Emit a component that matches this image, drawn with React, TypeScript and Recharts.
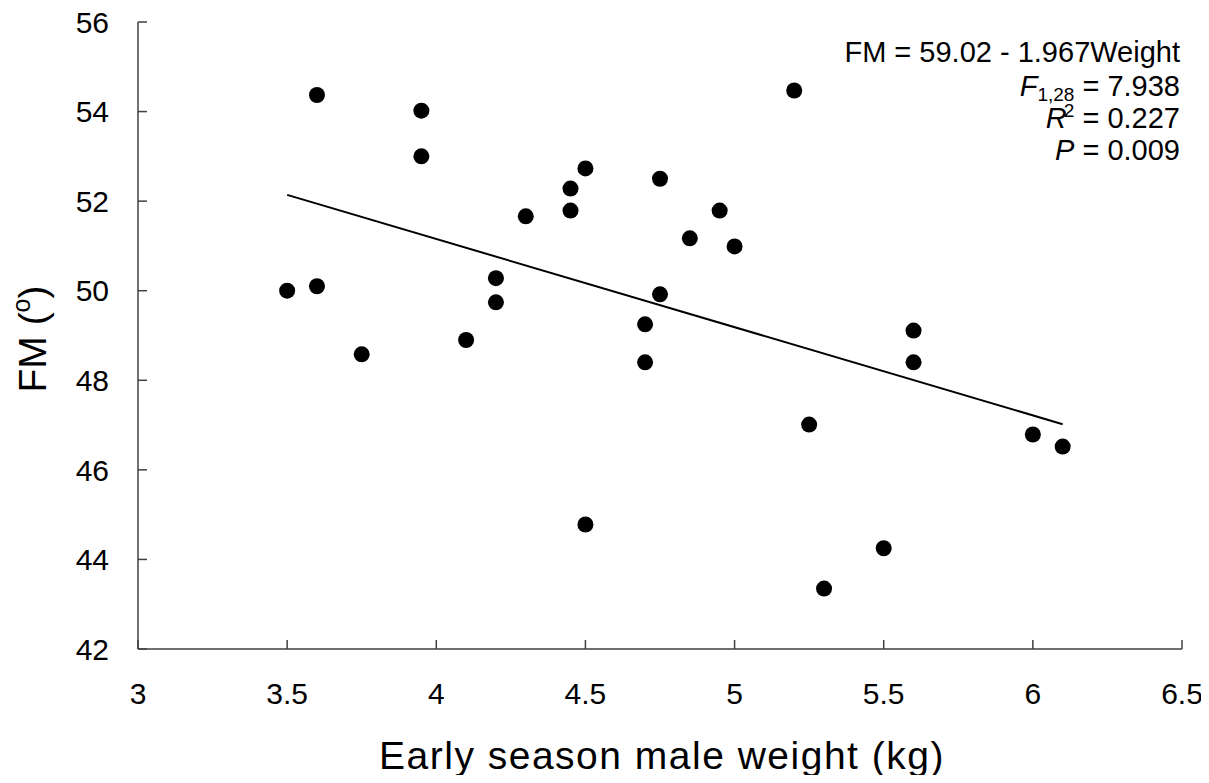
import { Customized, Scatter, ScatterChart, XAxis, YAxis } from "recharts";

// points
const weight = [
  3.5, 3.6, 3.6, 3.75, 3.95, 3.95, 4.1, 4.2, 4.2, 4.3, 4.45, 4.45, 4.5, 4.5,
  4.7, 4.7, 4.75, 4.75, 4.85, 4.95, 5.0, 5.2, 5.25, 5.3, 5.5, 5.6, 5.6, 6.0,
  6.1,
];
const fm = [
  50.0, 50.1, 54.37, 48.58, 54.02, 53.0, 48.9, 50.28, 49.74, 51.66, 52.28,
  51.79, 52.73, 44.78, 49.25, 48.4, 52.5, 49.92, 51.17, 51.79, 50.99, 54.47,
  47.01, 43.35, 44.25, 49.11, 48.4, 46.79, 46.52,
];

// regression line ends
const fitWeight = [3.5, 6.1];
const fitFM = [52.14, 47.02];

const xTicks = [3, 3.5, 4, 4.5, 5, 5.5, 6, 6.5];
const yTicks = [42, 44, 46, 48, 50, 52, 54, 56];

const points = weight.map((w, i) => ({ w, fm: fm[i] }));
const fit = fitWeight.map((w, i) => ({ w, fm: fitFM[i] }));

const font = "'Liberation Sans', Arial, sans-serif";
const axisColor = "#404040";

function Texts() {
  return (
    <g fontFamily={font} fill="#000">
      <text x={1180} y={62} textAnchor="end" fontSize={29}>
        FM = 59.02 - 1.967Weight
      </text>
      <text x={1180} y={96} textAnchor="end" fontSize={29}>
        <tspan fontStyle="italic">F</tspan>
        <tspan fontSize={19} dy={5}>
          1,28
        </tspan>
        <tspan dy={-5}> = 7.938</tspan>
      </text>
      <text x={1180} y={128} textAnchor="end" fontSize={29}>
        <tspan fontStyle="italic">R</tspan>
        <tspan fontSize={19} dx={-3} dy={-11}>
          2
        </tspan>
        <tspan dy={11}> = 0.227</tspan>
      </text>
      <text x={1180} y={160} textAnchor="end" fontSize={29}>
        <tspan fontStyle="italic">P</tspan> = 0.009
      </text>
      <text
        x={662}
        y={769}
        textAnchor="middle"
        fontSize={39}
        letterSpacing={1.5}
      >
        Early season male weight (kg)
      </text>
      <text
        x={0}
        y={0}
        textAnchor="middle"
        fontSize={39}
        transform="translate(46, 339) rotate(-90)"
      >
        FM (
        <tspan fontSize={25} dy={-16}>
          o
        </tspan>
        <tspan dy={16}>)</tspan>
      </text>
    </g>
  );
}

export default function App() {
  return (
    <div style={{ margin: "-8px" }}>
      <ScatterChart
        width={1209}
        height={783}
        margin={{ top: 22, right: 27, bottom: 0, left: 0 }}
        style={{ fontFamily: font }}
      >
        <XAxis
          type="number"
          dataKey="w"
          domain={[3, 6.5]}
          ticks={xTicks}
          interval={0}
          height={134}
          tickSize={-9}
          tickMargin={43}
          stroke={axisColor}
          strokeWidth={1.5}
          tick={{ fill: "#000", fontSize: 30 }}
          allowDataOverflow
        />
        <YAxis
          type="number"
          dataKey="fm"
          domain={[42, 56]}
          ticks={yTicks}
          interval={0}
          width={138}
          tickSize={-9}
          tickMargin={38}
          stroke={axisColor}
          strokeWidth={1.5}
          tick={{ fill: "#000", fontSize: 30 }}
          allowDataOverflow
        />
        <Scatter
          data={fit}
          line={{ stroke: "#000", strokeWidth: 2 }}
          shape={() => <g />}
          isAnimationActive={false}
        />
        <Scatter
          data={points}
          fill="#000"
          shape={(p: any) => <circle cx={p.cx} cy={p.cy} r={8} fill="#000" />}
          isAnimationActive={false}
        />
        <Customized component={Texts} />
      </ScatterChart>
    </div>
  );
}
